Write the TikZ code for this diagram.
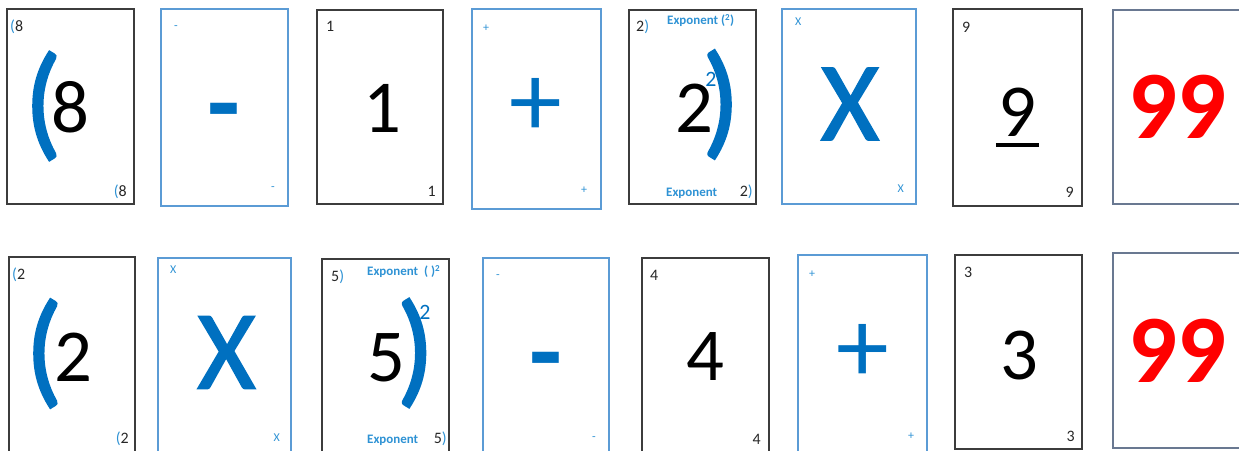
\documentclass[tikz,border=0pt]{standalone}
\usepackage{fontspec}
\setmainfont{Carlito}
\newfontfamily\heavyfont{Carlito}[FakeBold=1.5]
\usepackage{tikz}
\usetikzlibrary{positioning}
\usepackage{xcolor}

\definecolor{opblue}{RGB}{0,112,192}
\definecolor{lblblue}{RGB}{46,146,212}
\definecolor{cardgray}{RGB}{60,60,60}
\definecolor{cardblue}{RGB}{91,155,213}
\definecolor{cardslate}{RGB}{105,120,145}
\definecolor{numred}{RGB}{255,0,0}

\newcommand{\fsz}[1]{\fontsize{#1}{#1}\selectfont}
\newcommand{\bp}[1]{{\color{lblblue}#1}}

\begin{document}
\begin{tikzpicture}[x=1bp, y=-1bp,
  numcard/.style={draw=cardgray, line width=1.4bp, inner sep=0pt},
  opcard/.style={draw=cardblue, line width=1.4bp, inner sep=0pt},
  totcard/.style={draw=cardslate, line width=1.6bp, inner sep=0pt},
  bignum/.style={inner sep=0pt, font=\fsz{75}, text=black},
  bigop/.style={inner sep=0pt, font=\fsz{106}, text=opblue},
  bigx/.style={inner sep=0pt, font=\heavyfont\fsz{113}, text=opblue},
  bigminus/.style={inner sep=0pt, anchor=base, font=\fsz{108}\bfseries, text=opblue},
  paren/.style={inner sep=0pt, font=\heavyfont\fsz{126}, text=opblue},
  total/.style={inner sep=0pt, font=\fsz{97}\bfseries, text=numred},
  sup/.style={inner sep=0pt, font=\fsz{22}, text=opblue},
  tl/.style={inner sep=0pt, anchor=base west, font=\fsz{16}, text=black!85},
  br/.style={inner sep=0pt, anchor=base east, font=\fsz{16}, text=black!85},
  tinyop/.style={inner sep=0pt, font=\fsz{12}, text=lblblue},
  expo/.style={inner sep=0pt, anchor=base west, font=\fsz{13}\bfseries, text=lblblue}
]
\useasboundingbox (0,0) rectangle (1239,451);

% Row 1: (8 - 1 + 2)^2 X 9 = 99
\node[numcard, minimum width=127bp, minimum height=195bp] (a1) at (70.5,106.5) {};
\node[opcard, minimum width=127bp, minimum height=197bp] (a2) at (224.5,107.5) {};
\node[numcard, minimum width=126bp, minimum height=194bp] (a3) at (380,107) {};
\node[opcard, minimum width=129bp, minimum height=200bp] (a4) at (536.5,109) {};
\node[numcard, minimum width=127bp, minimum height=194bp] (a5) at (692.5,107) {};
\node[opcard, minimum width=134bp, minimum height=195bp] (a6) at (849,106.5) {};
\node[numcard, minimum width=129bp, minimum height=197bp] (a7) at (1017.5,107.5) {};
\node[totcard, minimum width=137bp, minimum height=194bp] (a8) at (1181.5,107) {};

\node[paren] (a1p) at (43,106) {(};
\node[bignum] (a1n) at (70.5,107.5) {8};
\node[tl] (a1tl) at (10,32) {\bp{(}8};
\node[br] (a1br) at (127,197) {\bp{(}8};

\node[bigminus] (a2o) at (224,139.5) {-};
\node[tinyop, anchor=base] (a2tl) at (176,30) {-};
\node[tinyop, anchor=base] (a2br) at (273,191) {-};

\node[bignum] (a3n) at (382,108) {1};
\node[tl] (a3tl) at (326,32) {1};
\node[br] (a3br) at (436,197) {1};

\node[bigop] (a4o) at (536,107) {+};
\node[tinyop] (a4tl) at (486,28) {+};
\node[tinyop] (a4br) at (584,190) {+};

\node[bignum] (a5n) at (694,108.5) {2};
\node[paren] (a5p) at (721,104.5) {)};
\node[sup] (a5s) at (711,79) {2};
\node[tl] (a5tl) at (636,32) {2\bp{)}};
\node[expo] (a5ex) at (667,25) {Exponent (\textsuperscript{2})};
\node[expo] (a5eb) at (666,197) {Exponent};
\node[br] (a5br) at (753,197) {2\bp{)}};

\node[bigx] (a6o) at (850,104) {X};
\node[tinyop, anchor=base west] (a6tl) at (795,26) {X};
\node[tinyop, anchor=base east] (a6br) at (904,193) {X};

\node[bignum] (a7n) at (1017,112) {9};
\draw[line width=4bp] ([xshift=-2bp, yshift=-8.5bp]a7n.south west) -- ([xshift=3bp, yshift=-8.5bp]a7n.south east);
\node[tl] (a7tl) at (962,33) {9};
\node[br] (a7br) at (1074,198) {9};

\node[total] (a8n) at (1177,107) {99};

% Row 2: (2 X 5)^2 - 4 + 3 = 99
\node[numcard, minimum width=126bp, minimum height=203bp] (b1) at (72,358.5) {};
\node[opcard, minimum width=133bp, minimum height=202bp] (b2) at (224.5,359) {};
\node[numcard, minimum width=127bp, minimum height=201bp] (b3) at (385.5,359.5) {};
\node[opcard, minimum width=126bp, minimum height=202bp] (b4) at (546,359) {};
\node[numcard, minimum width=127bp, minimum height=202bp] (b5) at (705.5,359) {};
\node[opcard, minimum width=129bp, minimum height=205bp] (b6) at (862.5,357.5) {};
\node[numcard, minimum width=127bp, minimum height=194bp] (b7) at (1018.5,352) {};
\node[totcard, minimum width=137bp, minimum height=195bp] (b8) at (1181.5,350.5) {};

\node[paren] (b1p) at (44,353.5) {(};
\node[bignum] (b1n) at (73,357) {2};
\node[tl] (b1tl) at (12,280) {\bp{(}2};
\node[br] (b1br) at (129,444) {\bp{(}2};

\node[bigx] (b2o) at (226.5,352.5) {X};
\node[tinyop, anchor=base west] (b2tl) at (170,274) {X};
\node[tinyop, anchor=base east] (b2br) at (280,442) {X};

\node[bignum] (b3n) at (386,358) {5};
\node[paren] (b3p) at (415.5,353) {)};
\node[sup] (b3s) at (425,312.5) {2};
\node[tl] (b3tl) at (331,282) {5\bp{)}};
\node[expo] (b3ex) at (367,276) {Exponent\ \ ( )\textsuperscript{2}};
\node[expo] (b3eb) at (367,444) {Exponent};
\node[br] (b3br) at (447,444) {5\bp{)}};

\node[bigminus] (b4o) at (545.5,388.5) {-};
\node[tinyop, anchor=base] (b4tl) at (498,279) {-};
\node[tinyop, anchor=base] (b4br) at (594,441) {-};

\node[bignum] (b5n) at (705.5,357) {4};
\node[tl] (b5tl) at (650,281) {4};
\node[br] (b5br) at (761,445) {4};

\node[bigop] (b6o) at (863,353.5) {+};
\node[tinyop] (b6tl) at (812,274) {+};
\node[tinyop] (b6br) at (911,436) {+};

\node[bignum] (b7n) at (1019.5,355.5) {3};
\node[tl] (b7tl) at (964,278) {3};
\node[br] (b7br) at (1075,442) {3};

\node[total] (b8n) at (1177,351) {99};

\end{tikzpicture}
\end{document}
